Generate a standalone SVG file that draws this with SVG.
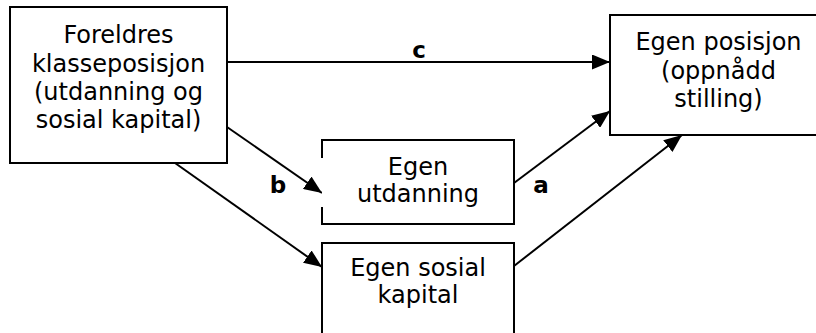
<svg xmlns="http://www.w3.org/2000/svg" width="816" height="333" viewBox="0 0 816 333">
<style>
.box{fill:#fff;stroke:#000;stroke-width:2}
.t{font-family:"DejaVu Sans","Verdana",sans-serif;font-size:24px;fill:#000;text-anchor:middle}
.lbl{font-family:"DejaVu Sans","Verdana",sans-serif;font-size:23px;font-weight:bold;fill:#000;text-anchor:middle}
.ln{stroke:#000;stroke-width:2;fill:none;marker-end:url(#ah)}
</style>
<defs>
<marker id="ah" markerUnits="userSpaceOnUse" markerWidth="19" markerHeight="15" refX="18" refY="7.5" orient="auto">
<path d="M0,0 L18,7.5 L0,15 z" fill="#000"/>
</marker>
</defs>
<rect width="816" height="333" fill="#fff"/>
<g id="connectors">
<line class="ln" x1="227" y1="62" x2="610" y2="62"/>
<line class="ln" x1="227" y1="127" x2="322" y2="193"/>
<line class="ln" x1="175" y1="163" x2="322" y2="267"/>
<line class="ln" x1="514" y1="183" x2="610" y2="111"/>
<line class="ln" x1="514" y1="266" x2="682" y2="135"/>
<text class="lbl" x="419" y="58">c</text>
<text class="lbl" x="278" y="193">b</text>
<text class="lbl" x="541" y="193">a</text>
</g>
<g id="foreldre">
<rect class="box" x="10" y="7" width="217" height="156"/>
<text class="t" x="118.5" y="43">Foreldres</text>
<text class="t" x="118.5" y="71.5">klasseposisjon</text>
<text class="t" x="118.5" y="99.5">(utdanning og</text>
<text class="t" x="118.5" y="128">sosial kapital)</text>
</g>
<g id="egen-posisjon">
<rect class="box" x="610" y="15" width="220" height="120"/>
<text class="t" x="718.5" y="50">Egen posisjon</text>
<text class="t" x="718.5" y="79">(oppnådd</text>
<text class="t" x="718.5" y="107">stilling)</text>
</g>
<g id="egen-utdanning">
<rect x="322" y="140" width="192" height="84" fill="#fff"/>
<path d="M322,158 V140 H514 V224 H322 V207" fill="none" stroke="#000" stroke-width="2"/>
<text class="t" x="418" y="175">Egen</text>
<text class="t" x="418" y="202">utdanning</text>
</g>
<g id="egen-sosial-kapital">
<rect class="box" x="322" y="243" width="192" height="100"/>
<text class="t" x="418" y="276">Egen sosial</text>
<text class="t" x="418" y="303">kapital</text>
</g>
</svg>
